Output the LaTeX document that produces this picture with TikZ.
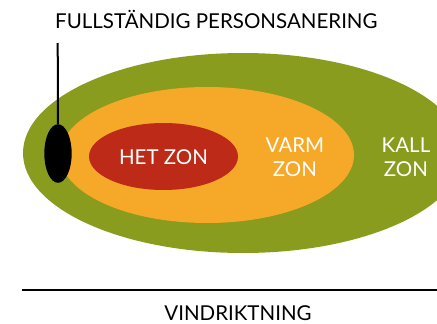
\documentclass[tikz,border=0pt]{standalone}
\usepackage{fontspec}
\setmainfont{Lato}
\usetikzlibrary{shapes.geometric}
\definecolor{zgreen}{HTML}{8A9C1E}
\definecolor{zorange}{HTML}{F6A828}
\definecolor{zred}{HTML}{BD2A17}
\begin{document}
\begin{tikzpicture}[x=1pt,y=-1pt,
  lbl/.style={font=\fontsize{20.5}{24}\selectfont, text=white, align=center, inner sep=0pt},
  captxt/.style={font=\fontsize{20.5}{22}\selectfont, text=black, inner sep=0pt},
  zone/.style={ellipse, draw=none, inner sep=0pt}]
\useasboundingbox (0,0) rectangle (437,324);
\begin{scope}
\clip (0,0) rectangle (437,324);
\node[zone, fill=zgreen, minimum width=440pt, minimum height=200pt] (kallz) at (243,153) {};
\end{scope}
\node[zone, fill=zorange, minimum width=294pt, minimum height=136pt] (varmz) at (207,155) {};
\node[zone, fill=zred, minimum width=149pt, minimum height=67pt] (hetz) at (163.5,156.5) {};
\node[lbl] (het) at (163.5,157) {HET ZON};
\node[lbl] (varm) at (295,157) {VARM\\ZON};
\node[lbl] (kall) at (406,157) {KALL\\ZON};
\node[captxt, anchor=base west] (title) at (55,28) {FULLSTÄNDIG PERSONSANERING};
\node[zone, fill=black, minimum width=27.4pt, minimum height=58.6pt] (blob) at (58,153.5) {};
\coordinate (ltop) at (57.7,43);
\draw[line width=2pt] (ltop) -- (blob.north);
\coordinate (wl) at (22,290);
\coordinate (wr) at (437,290);
\draw[line width=2pt] (wl) -- (wr);
\node[captxt, anchor=base] (wind) at (238,320) {VINDRIKTNING};
\end{tikzpicture}
\end{document}
